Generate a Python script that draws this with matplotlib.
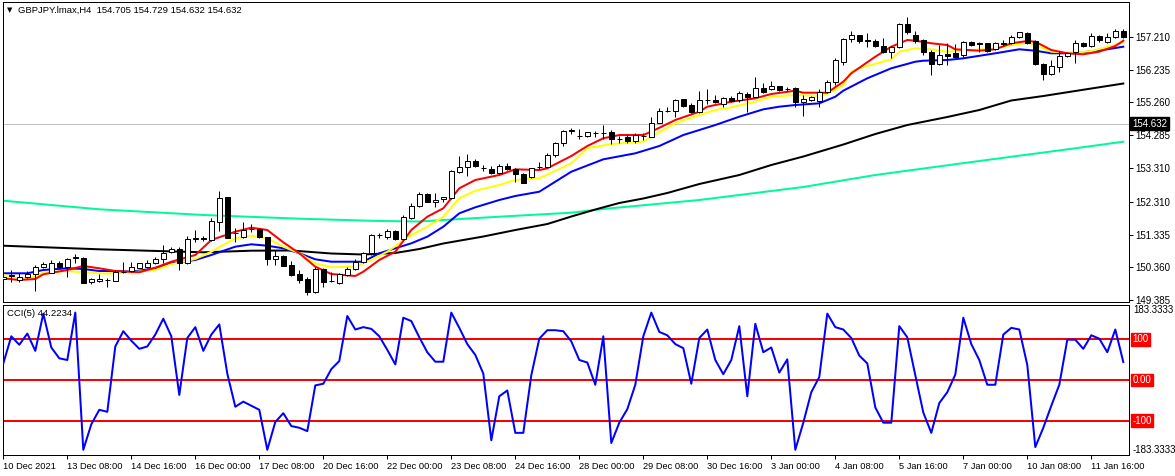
import numpy as np
import matplotlib
matplotlib.use("Agg")
import matplotlib.pyplot as plt
import matplotlib.transforms as mtransforms

plt.rcParams['font.family'] = ['Liberation Sans', 'DejaVu Sans']

# H4 candles, GBPJPY
opens = [
    150.013, 150.111, 149.983, 150.063, 150.152, 150.360, 150.200, 150.488, 150.360, 150.628,
    150.645, 149.915, 149.944, 149.992, 149.962, 150.230, 150.250, 150.339, 150.360, 150.479,
    150.607, 150.806, 150.904, 150.479, 151.210, 151.239, 151.171, 151.697, 152.439, 151.370,
    151.251, 151.507, 151.489, 151.269, 150.607, 150.696, 150.429, 150.161, 150.004, 149.636,
    150.301, 149.953, 149.885, 150.131, 150.301, 150.527, 150.776, 151.311, 151.269, 151.438,
    151.192, 151.833, 152.190, 152.537, 152.291, 152.389, 152.427, 153.200, 153.330, 153.517,
    153.309, 153.271, 153.152, 153.378, 153.271, 153.122, 153.033, 153.339, 153.348, 153.696,
    154.043, 154.417, 154.269, 154.269, 154.358, 154.364, 154.370, 154.180, 154.221, 154.120,
    154.260, 154.239, 154.655, 155.011, 155.011, 155.350, 155.181, 154.982, 155.320, 155.329,
    155.210, 155.379, 155.320, 155.507, 155.427, 155.677, 155.665, 155.736, 155.665, 155.677,
    155.278, 155.329, 155.299, 155.576, 155.873, 156.467, 157.132, 157.260, 157.102, 157.081,
    156.933, 156.764, 156.894, 157.586, 157.260, 157.111, 156.764, 156.398, 156.695, 156.716,
    156.666, 157.061, 157.013, 157.013, 156.835, 157.013, 157.013, 157.191, 157.328, 157.090,
    156.398, 156.092, 156.300, 156.636, 156.746, 157.031, 156.933, 157.230, 157.061, 157.191,
    157.378]
highs = [
    150.191, 150.280, 150.182, 150.250, 150.429, 150.509, 150.577, 150.547, 150.645, 150.755,
    150.666, 150.051, 150.152, 150.051, 150.280, 150.509, 150.527, 150.503, 150.577, 150.675,
    151.023, 150.972, 150.972, 151.299, 151.468, 151.299, 151.816, 152.626, 152.448, 151.519,
    151.697, 151.637, 151.536, 151.269, 150.874, 150.726, 150.556, 150.280, 150.081, 150.378,
    150.331, 150.230, 150.200, 150.378, 150.598, 150.824, 151.349, 151.388, 151.489, 151.468,
    151.914, 152.261, 152.606, 152.576, 152.558, 152.457, 153.250, 153.666, 153.725, 153.568,
    153.399, 153.369, 153.419, 153.449, 153.300, 153.170, 153.318, 153.479, 153.764, 154.091,
    154.438, 154.489, 154.459, 154.388, 154.417, 154.587, 154.438, 154.260, 154.289, 154.340,
    154.340, 154.815, 155.083, 155.112, 155.359, 155.368, 155.249, 155.596, 155.656, 155.478,
    155.409, 155.457, 155.605, 155.576, 156.003, 155.825, 155.902, 155.745, 155.724, 155.724,
    155.478, 155.457, 155.647, 155.923, 156.568, 157.162, 157.393, 157.274, 157.310, 157.132,
    157.162, 156.933, 157.607, 157.803, 157.387, 157.132, 156.814, 156.963, 157.013, 156.992,
    157.090, 157.081, 157.043, 157.031, 157.043, 157.111, 157.260, 157.358, 157.349, 157.111,
    156.419, 156.517, 156.793, 156.764, 157.111, 157.061, 157.310, 157.260, 157.310, 157.429,
    157.429]
lows = [
    149.775, 149.932, 149.932, 150.042, 149.656, 150.331, 150.182, 150.331, 150.063, 150.497,
    149.894, 149.855, 149.915, 149.766, 149.953, 150.191, 150.236, 150.331, 150.331, 150.449,
    150.479, 150.776, 150.280, 150.449, 151.103, 151.141, 151.141, 151.438, 151.222, 151.121,
    151.222, 151.417, 151.222, 150.429, 150.429, 150.399, 150.102, 149.885, 149.538, 149.606,
    149.784, 149.932, 149.876, 150.102, 150.280, 150.497, 150.726, 151.222, 151.192, 151.171,
    151.171, 151.795, 152.160, 152.291, 152.142, 152.291, 152.398, 153.152, 153.072, 153.348,
    153.229, 153.131, 153.131, 153.250, 152.903, 152.855, 153.004, 153.280, 153.330, 153.645,
    153.963, 154.319, 154.162, 154.239, 154.239, 154.162, 154.022, 154.061, 154.043, 154.061,
    154.141, 154.221, 154.637, 154.982, 154.833, 155.112, 154.952, 154.952, 155.210, 155.231,
    155.112, 155.278, 155.278, 154.982, 155.409, 155.546, 155.626, 155.605, 155.605, 155.112,
    154.863, 155.308, 155.130, 155.528, 155.774, 156.369, 157.052, 157.031, 156.894, 156.912,
    156.734, 156.568, 156.864, 157.289, 157.013, 156.666, 156.071, 156.369, 156.369, 156.597,
    156.615, 156.933, 156.764, 156.764, 156.814, 156.933, 156.992, 157.162, 156.992, 156.369,
    155.923, 156.071, 156.170, 156.615, 156.419, 156.912, 156.894, 157.061, 157.013, 157.162,
    157.162]
closes = [
    150.072, 150.131, 150.081, 150.161, 150.369, 150.458, 150.488, 150.360, 150.607, 150.657,
    149.903, 150.013, 150.013, 149.974, 150.212, 150.236, 150.360, 150.479, 150.479, 150.607,
    150.794, 150.904, 150.479, 151.201, 151.222, 151.192, 151.735, 152.410, 151.239, 151.379,
    151.468, 151.489, 151.269, 150.607, 150.696, 150.408, 150.131, 149.983, 149.636, 150.301,
    149.932, 149.944, 150.161, 150.301, 150.527, 150.776, 151.320, 151.320, 151.438, 151.192,
    151.845, 152.190, 152.537, 152.309, 152.359, 152.439, 153.220, 153.330, 153.517, 153.378,
    153.300, 153.152, 153.378, 153.271, 153.122, 152.873, 153.300, 153.348, 153.696, 154.043,
    154.408, 154.429, 154.251, 154.370, 154.352, 154.358, 154.162, 154.162, 154.111, 154.289,
    154.254, 154.655, 155.002, 155.017, 155.329, 155.151, 154.982, 155.320, 155.326, 155.261,
    155.379, 155.308, 155.528, 155.427, 155.677, 155.558, 155.736, 155.635, 155.656, 155.278,
    155.359, 155.409, 155.576, 155.873, 156.517, 157.132, 157.260, 157.090, 157.090, 156.933,
    156.764, 156.894, 157.586, 157.358, 157.090, 156.764, 156.398, 156.666, 156.636, 156.615,
    157.061, 156.963, 157.001, 156.793, 157.013, 157.007, 157.191, 157.340, 157.013, 156.398,
    156.101, 156.339, 156.636, 156.734, 157.013, 156.933, 157.230, 157.111, 157.191, 157.378,
    157.191]

# moving averages, vertices read at bar positions
red_idx = [0, 2, 4, 5, 8, 10, 12, 14, 17, 19, 21, 24, 26, 29, 31, 33, 35, 37, 39, 41, 44, 45, 47,
           49, 51, 53, 55, 57, 59, 62, 64, 67, 68, 71, 73, 75, 77, 80, 81, 84, 87, 88, 91, 94, 96,
           99, 100, 103, 105, 106, 109, 111, 113, 114, 116, 118, 119, 122, 124, 126, 128, 129,
           131, 133, 135, 137, 139, 140]
red_val = [150.037, 149.987, 150.017, 150.157, 150.284, 150.403, 150.334, 150.254, 150.216,
           150.352, 150.530, 150.729, 151.175, 151.421, 151.540, 151.471, 151.106, 150.780,
           150.382, 150.165, 150.106, 150.233, 150.581, 150.827, 151.471, 151.866, 152.116,
           152.709, 152.956, 153.104, 153.273, 153.252, 153.303, 153.668, 153.965, 154.194,
           154.291, 154.291, 154.390, 154.737, 154.983, 155.132, 155.280, 155.381, 155.509,
           155.607, 155.547, 155.547, 155.874, 156.123, 156.616, 156.913, 157.112, 157.091,
           157.014, 156.963, 156.836, 156.794, 156.836, 157.014, 157.082, 157.061, 156.815,
           156.717, 156.687, 156.764, 156.934, 157.091]
yellow_idx = [0, 2, 4, 5, 8, 10, 13, 16, 19, 21, 24, 26, 29, 31, 33, 35, 37, 39, 41, 44, 46, 48,
              51, 53, 55, 57, 59, 62, 64, 67, 71, 73, 76, 80, 81, 84, 87, 89, 91, 94, 96, 99, 102,
              103, 105, 106, 107, 111, 112, 114, 116, 118, 120, 124, 126, 128, 129, 131, 134, 136,
              139, 140]
yellow_val = [150.136, 150.037, 150.085, 150.216, 150.254, 150.216, 150.174, 150.216, 150.284,
              150.453, 150.611, 150.827, 151.225, 151.302, 151.225, 150.976, 150.780, 150.483,
              150.364, 150.382, 150.581, 150.827, 151.323, 151.569, 151.866, 152.413, 152.638,
              152.807, 152.956, 153.006, 153.451, 153.897, 154.024, 154.093, 154.241, 154.639,
              154.885, 155.034, 155.114, 155.280, 155.428, 155.479, 155.449, 155.509, 155.776,
              156.171, 156.271, 156.539, 156.764, 156.865, 156.836, 156.764, 156.794, 156.865,
              156.963, 157.031, 156.963, 156.764, 156.735, 156.785, 156.963, 157.031]
blue_idx = [0, 3, 5, 8, 10, 12, 14, 16, 19, 21, 24, 26, 29, 31, 33, 35, 37, 39, 41, 45, 47, 51,
            53, 55, 57, 59, 62, 64, 67, 69, 71, 75, 79, 82, 85, 89, 92, 95, 97, 99, 102, 104, 105,
            108, 111, 114, 115, 118, 120, 124, 127, 129, 131, 134, 138, 140]
blue_val = [150.186, 150.186, 150.284, 150.334, 150.314, 150.254, 150.254, 150.233, 150.334,
            150.483, 150.581, 150.729, 150.976, 151.047, 151.005, 150.928, 150.780, 150.602,
            150.530, 150.530, 150.780, 151.076, 151.273, 151.569, 151.967, 152.145, 152.362,
            152.481, 152.608, 152.905, 153.202, 153.570, 153.748, 153.965, 154.291, 154.588,
            154.835, 155.054, 155.132, 155.182, 155.232, 155.428, 155.607, 155.975, 156.272,
            156.467, 156.497, 156.518, 156.568, 156.717, 156.836, 156.794, 156.717, 156.717,
            156.836, 156.913]
black_idx = [0, 12, 25, 31, 36, 41, 45, 49, 52, 55, 60, 64, 68, 71, 74, 77, 80, 83, 87, 92, 96,
             100, 105, 109, 113, 118, 122, 126, 130, 134, 140]
black_val = [151.005, 150.898, 150.809, 150.857, 150.863, 150.774, 150.744, 150.789, 150.907,
             151.071, 151.278, 151.471, 151.649, 151.872, 152.080, 152.273, 152.407, 152.570,
             152.837, 153.104, 153.401, 153.653, 154.009, 154.321, 154.588, 154.826, 155.034,
             155.316, 155.449, 155.598, 155.820]
green_idx = [0, 12, 25, 37, 47, 52, 55, 62, 71, 75, 87, 97, 100, 109, 122, 134, 140]
green_val = [152.341, 152.086, 151.917, 151.807, 151.739, 151.724, 151.768, 151.866, 151.985,
             152.095, 152.362, 152.659, 152.748, 153.104, 153.520, 153.897, 154.093]

# CCI(5), one value per bar
cci = [40.8, 107.5, 86.7, 114.2, 71.7, 163.3, 80, 53.3, 49.2, 165.8,
       -171.7, -109, -73.3, -78.3, 82.5, 120, 96.7, 76.7, 82.5, 111.7,
       150.8, 107.5, -36.7, 103.3, 130, 71.7, 111.7, 136.7, 15.8, -65.8,
       -53.3, -63.3, -73.3, -171.7, -103.3, -81.7, -113.3, -117.5, -125.8, -13.3,
       -9.2, 26.7, 46.7, 157.5, 124.2, 130, 125.8, 107.5, 74.2, 38.3,
       153.3, 145, 105, 68.3, 45, 45, 165.8, 128.3, 88.3, 61.7,
       15.8, -148.3, -40, -25.8, -130, -130, 11.7, 101.7, 122.5, 122.5,
       120, 95, 49.2, 43, -11.7, 107.5, -155, -105, -71.7, -11.7,
       107.5, 165.8, 118.3, 110, 88.3, 78.3, -9.2, 103.3, 124.2, 49.2,
       14.2, 49.2, 132.5, -40, 138.3, 68.3, 80, 18.3, 50.8, -171.7,
       -105, -30, 7.5, 163.3, 130, 124.2, 103.3, 60, 40.8, -67.5,
       -105, -105, 132.5, 105, 11.7, -80, -130, -56.7, -30, 13.3,
       153.3, 88.3, 49.2, -11.7, -11.7, 111.7, 128.3, 124.2, 36.7, -165,
       -117.5, -63.3, -11.7, 99.2, 99.2, 76.7, 110, 101.7, 68.3, 124.2,
       44.2]
cci_levels = [100, 0, -100]

price_ticks = [157.210, 156.235, 155.260, 154.285, 153.310, 152.310, 151.335, 150.360, 149.385]
last_price = 154.632
time_labels = ["10 Dec 2021", "13 Dec 08:00", "14 Dec 16:00", "16 Dec 00:00", "17 Dec 08:00",
               "20 Dec 16:00", "22 Dec 00:00", "23 Dec 08:00", "24 Dec 16:00", "28 Dec 00:00",
               "29 Dec 08:00", "30 Dec 16:00", "3 Jan 00:00", "4 Jan 08:00", "5 Jan 16:00",
               "7 Jan 00:00", "10 Jan 08:00", "11 Jan 16:00"]

W, H = 1175, 476
px = 72.0 / 100  # one pixel in points
fig = plt.figure(figsize=(W / 100, H / 100), dpi=100)
fig.patch.set_facecolor('white')

left = 2.5 / W
width = 1126 / W
ax1 = fig.add_axes([left, (H - 302) / H, width, 300 / H])
ax2 = fig.add_axes([left, (H - 455) / H, width, 150 / H])

x = np.arange(len(opens))
o = np.array(opens)
c = np.array(closes)

for ax in (ax1, ax2):
    ax.set_xlim(-0.1, 140.65)
    for s in ax.spines.values():
        s.set_linewidth(px)
        s.set_color('black')

# main panel
ax1.set_ylim(149.334, 158.240)
ax1.axhline(last_price, color='#C0C0C0', lw=px, zorder=1)
ax1.plot(green_idx, green_val, color='#00FA9A', lw=2 * px, zorder=2)
ax1.plot(black_idx, black_val, color='black', lw=2 * px, zorder=2)
ax1.plot(blue_idx, blue_val, color='#0000FF', lw=2 * px, zorder=2)
ax1.plot(yellow_idx, yellow_val, color='#FFFF00', lw=2 * px, zorder=2)
ax1.plot(red_idx, red_val, color='#FF0000', lw=2 * px, zorder=2)

ax1.vlines(x, lows, highs, color='black', lw=px, zorder=3)
body_bottom = np.minimum(o, c)
body_h = np.maximum(np.abs(c - o), 0.002)
body_col = np.where(c >= o, 'white', 'black')
ax1.bar(x, body_h, bottom=body_bottom, width=0.56, color=body_col,
        edgecolor='black', linewidth=px, zorder=4)

ax1.set_xticks([])
ax1.yaxis.tick_right()
ax1.set_yticks(price_ticks)
ax1.set_yticklabels([f"{v:.3f}" for v in price_ticks])
ax1.tick_params(axis='y', direction='out', length=3, width=px, pad=2, labelsize=7)

trans1 = mtransforms.blended_transform_factory(ax1.transAxes, ax1.transData)
ax1.text(1.0035, last_price, f"{last_price:.3f}", transform=trans1, color='white',
         fontsize=7, va='center', ha='left', zorder=10, clip_on=False,
         bbox=dict(boxstyle='square,pad=0.2', fc='black', ec='black'))

fig.text(10 / W, 1 - 10 / H, '\u25BC', fontsize=5, ha='center', va='center',
         family=['DejaVu Sans'])
fig.text(18 / W, 1 - 10 / H, 'GBPJPY.lmax,H4  154.705 154.729 154.632 154.632',
         fontsize=6.8, ha='left', va='center')

# CCI panel
ax2.set_ylim(-184.5, 184.5)
for lv in cci_levels:
    ax2.axhline(lv, color='#FF0000', lw=2 * px, zorder=2)
ax2.plot(x, cci, color='#0000FF', lw=2 * px, zorder=3)
ax2.set_yticks([])

trans2 = mtransforms.blended_transform_factory(ax2.transAxes, ax2.transData)
ax2.text(1.004, 183.3333, '183.3333', transform=trans2, fontsize=7, va='top', ha='left')
ax2.text(1.004, -184.0, '-183.3333', transform=trans2, fontsize=7, va='bottom', ha='left')
for lv, lab in zip(cci_levels, ['100', '0.00', '-100']):
    ax2.text(1.0035, lv, lab, transform=trans2, color='white', fontsize=7,
             va='center', ha='left', zorder=10,
             bbox=dict(boxstyle='square,pad=0.15', fc='#FF0000', ec='#FF0000'))

fig.text(7 / W, 1 - 314 / H, 'CCI(5) 44.2234', fontsize=6.8, ha='left', va='center')

ax2.set_xticks(np.arange(0, 8 * len(time_labels), 8))
ax2.set_xticklabels(time_labels, ha='left')
ax2.tick_params(axis='x', direction='out', length=3, width=px, pad=2, labelsize=6.7)

fig.savefig('out.png', dpi=100, facecolor='white')
